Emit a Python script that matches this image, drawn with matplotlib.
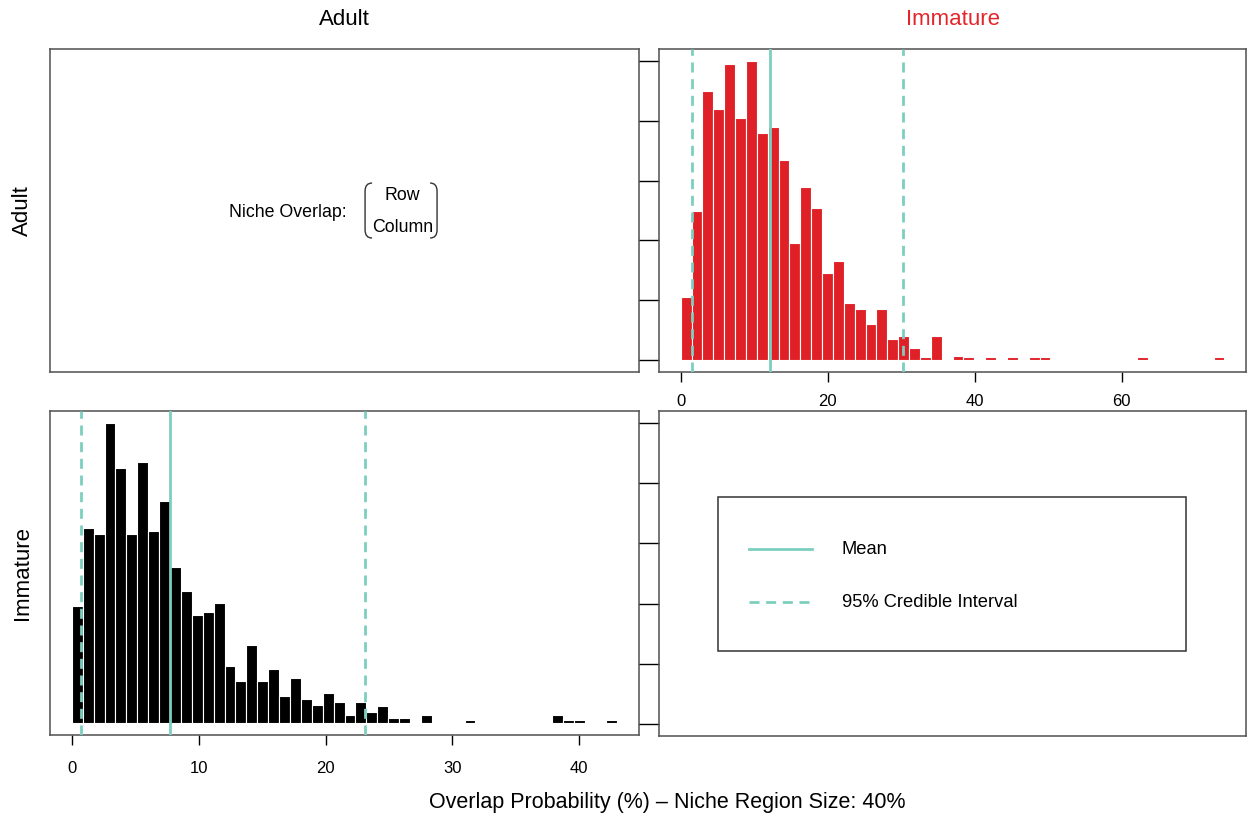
import numpy as np
import matplotlib
matplotlib.use('Agg')
import matplotlib.pyplot as plt
from matplotlib.path import Path
from matplotlib.patches import PathPatch, Rectangle
from matplotlib.lines import Line2D

plt.rcParams['font.family'] = ['Liberation Sans', 'DejaVu Sans']

# column / row groups
groups = ['Adult', 'Immature']
group_colors = ['black', '#E3262B']

# top-right panel: adult row vs immature column (50 bins from 0 to 74 %)
top_range_max = 74.0
top_freq = [21, 50, 90, 84, 99, 81, 100, 76, 78, 67,
            39, 58, 51, 29, 33, 19, 17, 12, 17, 7,
            8, 4, 1, 8, 0, 1.5, 1, 0, 1, 0,
            1, 0, 1, 1, 0, 0, 0, 0, 0, 0,
            0, 0, 1, 0, 0, 0, 0, 0, 0, 1]
top_mean = 12.1
top_ci = [1.6, 30.3]
top_xticks = [0, 20, 40, 60]

# bottom-left panel: immature row vs adult column (50 bins from 0 to 43 %)
bottom_range_max = 43.0
bottom_freq = [39, 65, 63, 100, 85, 63, 87, 64, 74, 52,
               44, 36, 37, 40, 19, 14, 26, 14, 18, 9,
               15, 8, 6, 10, 7, 2.7, 7, 3.6, 5.6, 1.5,
               1.5, 0, 2.7, 0, 0, 0, 1, 0, 0, 0,
               0, 0, 0, 0, 2.7, 1, 1, 0, 0, 1]
bottom_mean = 7.74
bottom_ci = [0.71, 23.1]
bottom_xticks = [0, 10, 20, 30, 40]

freq_ticks = [0, 20, 40, 60, 80, 100]

legend_labels = ['Mean', '95% Credible Interval']
xlabel = 'Overlap Probability (%) \u2013 Niche Region Size: 40%'

teal = '#7CCFBF'
box_color = '#505050'
dash = (0, (3.6, 2.4))

fig = plt.figure(figsize=(12.48, 8.16), dpi=100)

# panel boxes in figure fractions
ax_tl = fig.add_axes([0.0401, 0.5441, 0.4720, 0.3958])
ax_tr = fig.add_axes([0.5280, 0.5441, 0.4705, 0.3958])
ax_bl = fig.add_axes([0.0401, 0.0993, 0.4720, 0.3971])
ax_br = fig.add_axes([0.5280, 0.0980, 0.4705, 0.3983])

for ax in [ax_tl, ax_tr, ax_bl, ax_br]:
    for s in ax.spines.values():
        s.set_color(box_color)
        s.set_linewidth(1.1)
    ax.set_ylim(-4, 104)


def draw_hist(ax, freq, range_max, mean, ci, color, xticks, pad_pt):
    n = len(freq)
    width = range_max / n
    lefts = np.arange(n) * width
    ax.bar(lefts, freq, width=width, align='edge', color=color,
           edgecolor='white', linewidth=0.8, zorder=2)
    ax.axvline(mean, color=teal, lw=2.0, zorder=3)
    for c in ci:
        ax.axvline(c, color=teal, lw=2.0, linestyle=dash, zorder=3)
    pad = 0.04 * range_max
    ax.set_xlim(-pad, range_max + pad)
    ax.set_xticks(xticks)
    ax.set_xticklabels([str(t) for t in xticks], fontsize=12)
    ax.tick_params(axis='x', direction='out', length=7.5, width=1, pad=pad_pt)


# top-left: text only
ax_tl.set_xticks([])
ax_tl.set_yticks([])
ax_tl.text(0.404, 0.495, 'Niche Overlap:', transform=ax_tl.transAxes,
           ha='center', va='center', fontsize=12.8)
ax_tl.text(0.598, 0.548, 'Row', transform=ax_tl.transAxes,
           ha='center', va='center', fontsize=12.8)
ax_tl.text(0.598, 0.446, 'Column', transform=ax_tl.transAxes,
           ha='center', va='center', fontsize=12.8)


def paren(ax, x_line, x_end, y_top, y_bot, r):
    verts = [(x_end, y_top), (x_line, y_top), (x_line, y_top - r),
             (x_line, y_bot + r), (x_line, y_bot), (x_end, y_bot)]
    codes = [Path.MOVETO, Path.CURVE3, Path.CURVE3,
             Path.LINETO, Path.CURVE3, Path.CURVE3]
    ax.add_patch(PathPatch(Path(verts, codes), transform=ax.transAxes,
                           fill=False, edgecolor='#333333', lw=1.0))


paren(ax_tl, 0.5348, 0.5467, 0.5851, 0.4149, 0.025)
paren(ax_tl, 0.6570, 0.6452, 0.5851, 0.4149, 0.025)

# top-right histogram
draw_hist(ax_tr, top_freq, top_range_max, top_mean, top_ci,
          '#E02027', top_xticks, 8)
ax_tr.set_yticks(freq_ticks)
ax_tr.set_yticklabels([])
ax_tr.tick_params(axis='y', direction='out', length=14.4, width=1)

# bottom-left histogram
draw_hist(ax_bl, bottom_freq, bottom_range_max, bottom_mean, bottom_ci,
          'black', bottom_xticks, 11)
ax_bl.set_yticks([])

# bottom-right: legend panel
ax_br.set_xticks([])
ax_br.set_yticks(freq_ticks)
ax_br.set_yticklabels([])
ax_br.tick_params(axis='y', direction='out', length=14.4, width=1)
ax_br.set_xlim(0, 1)
ax_br.add_patch(Rectangle((0.100, 0.262), 0.798, 0.473,
                          transform=ax_br.transAxes, fill=False,
                          edgecolor='#333333', lw=1.1))
styles = ['-', dash]
ys = [0.575, 0.412]
for lab, st, yy in zip(legend_labels, styles, ys):
    ax_br.add_line(Line2D([0.153, 0.260], [yy, yy], transform=ax_br.transAxes,
                          color=teal, lw=2.0, linestyle=st))
    ax_br.text(0.311, yy, lab, transform=ax_br.transAxes,
               ha='left', va='center', fontsize=13.2)

# column and row headers
for ax, g, c in zip([ax_tl, ax_tr], groups, group_colors):
    ax.text(0.5, 1.0 + 30 / 323, g, transform=ax.transAxes, ha='center',
            va='center', fontsize=16, color=c)
for ax, g in zip([ax_tl, ax_bl], groups):
    ax.text(-28 / 589, 0.5, g, transform=ax.transAxes, ha='center',
            va='center', rotation=90, fontsize=16)

fig.text(0.535, 0.016, xlabel, ha='center', va='center', fontsize=15.5)

plt.savefig('out.png', dpi=100)
